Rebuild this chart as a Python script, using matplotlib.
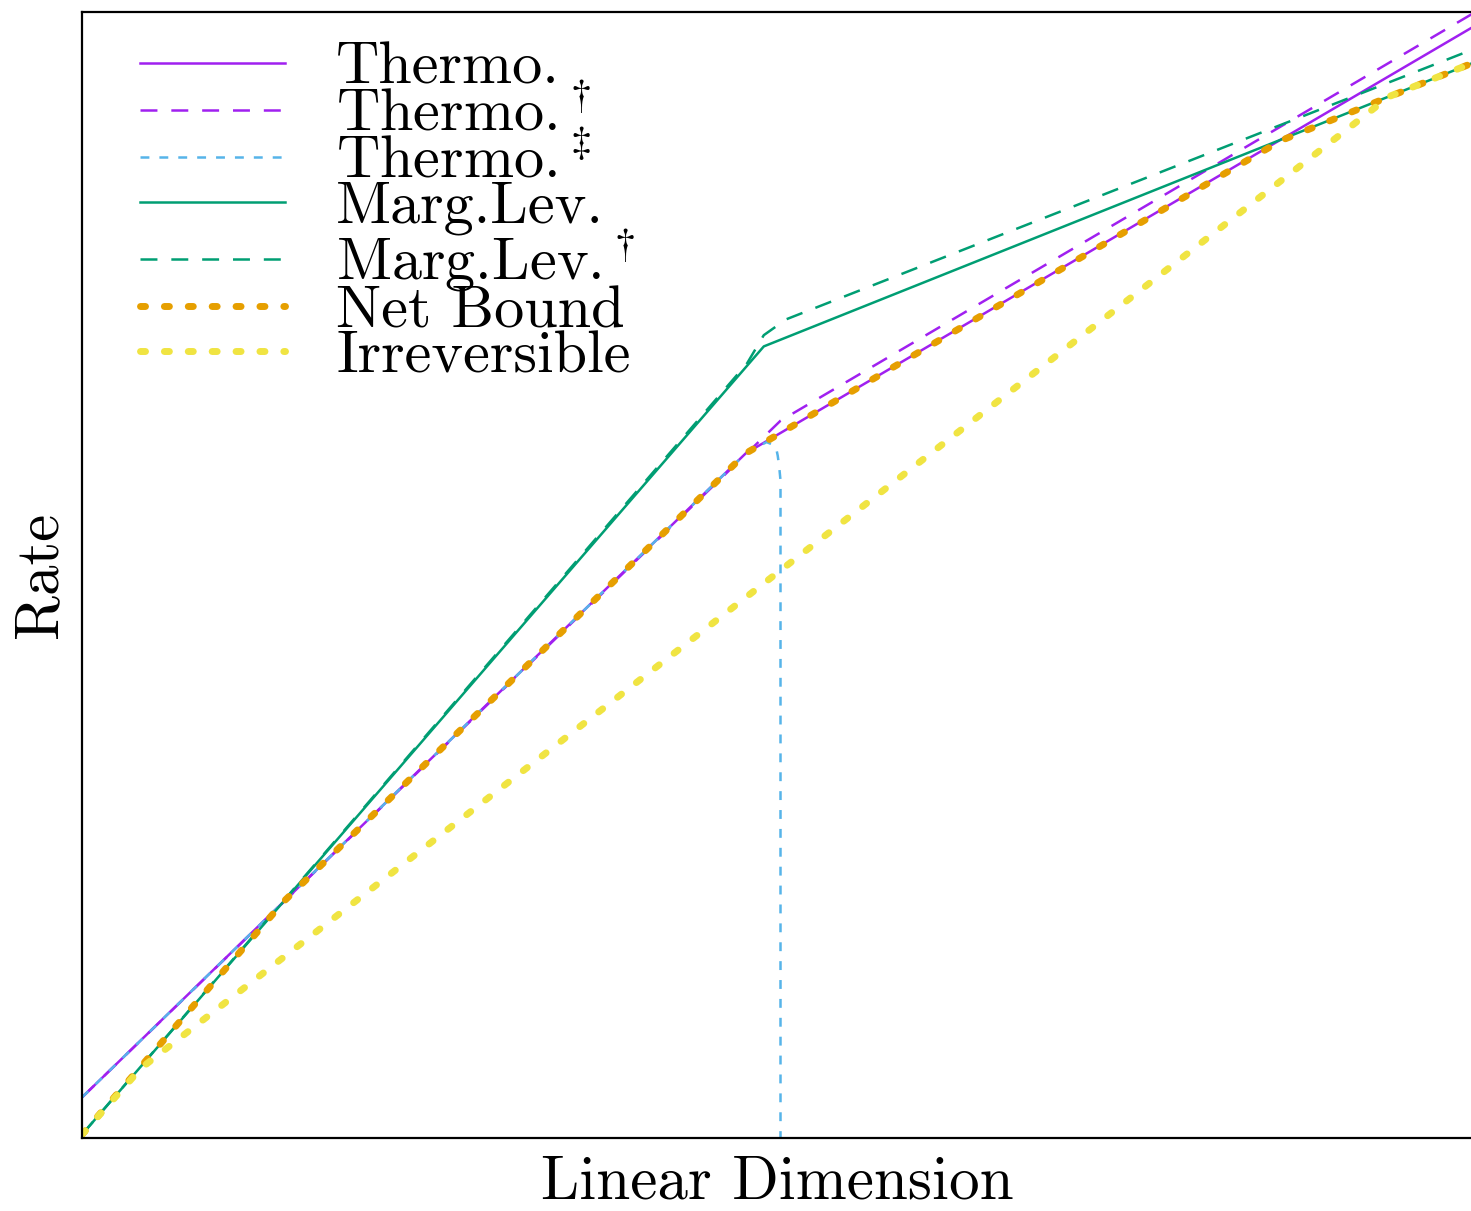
import matplotlib
matplotlib.use('Agg')
import matplotlib.pyplot as plt

plt.rcParams['font.family'] = 'serif'
plt.rcParams['font.serif'] = ['cmr10']
plt.rcParams['mathtext.fontset'] = 'cm'
plt.rcParams['axes.unicode_minus'] = False
plt.rcParams['lines.scale_dashes'] = False

# both axes scaled 0..1
thermo_x = [0.0, 0.477, 1.0]
thermo_y = [0.036, 0.608, 0.987]

thermo_d_x = [0.0, 0.502, 1.0]
thermo_d_y = [0.036, 0.637, 0.999]

thermo_dd_x = [0.0, 0.477, 0.492, 0.496, 0.499, 0.500, 0.501, 0.502, 0.502]
thermo_dd_y = [0.036, 0.608, 0.618, 0.616, 0.612, 0.606, 0.597, 0.584, 0.0]

marg_x = [0.0, 0.490, 1.0]
marg_y = [0.003, 0.703, 0.955]

marg_d_x = [0.0, 0.478, 0.490, 0.506, 1.0]
marg_d_y = [0.003, 0.688, 0.713, 0.727, 0.967]

net_x = [0.0, 0.145, 0.477, 0.862, 1.0]
net_y = [0.003, 0.210, 0.608, 0.886, 0.955]

irr_x = [0.0, 0.0425, 0.9395, 1.0]
irr_y = [0.003, 0.062, 0.925, 0.955]

purple = '#A020F0'
skyblue = '#56B4E9'
green = '#009E73'
orange = '#E69F00'
yellow = '#F0E442'

fig = plt.figure(figsize=(7.355, 6.055), dpi=200)
ax = fig.add_axes([0.0557, 0.0603, 0.946, 0.9298])

ax.plot(thermo_x, thermo_y, color=purple, lw=0.9, label='Thermo.')
ax.plot(thermo_d_x, thermo_d_y, color=purple, lw=0.9, dashes=(6.1, 5.0),
        label=r'Thermo.$^\dagger$')
ax.plot(thermo_dd_x, thermo_dd_y, color=skyblue, lw=0.9, dashes=(3.2, 3.6),
        label=r'Thermo.$^\ddagger$')
ax.plot(marg_x, marg_y, color=green, lw=0.9, label='Marg.Lev.')
ax.plot(marg_d_x, marg_d_y, color=green, lw=0.9, dashes=(6.1, 5.0),
        label=r'Marg.Lev.$^\dagger$')
ax.plot(net_x, net_y, color=orange, lw=2.5, dashes=(1.8, 6.8),
        dash_capstyle='round', label='Net Bound')
ax.plot(irr_x, irr_y, color=yellow, lw=2.5, dashes=(1.8, 6.8),
        dash_capstyle='round', label='Irreversible')

ax.set_xlim(0, 1)
ax.set_ylim(0, 1)
ax.set_xticks([])
ax.set_yticks([])
ax.set_xlabel('Linear Dimension', fontsize=22, labelpad=6)
ax.set_ylabel('Rate', fontsize=22, labelpad=5)

ax.legend(loc='upper left', bbox_to_anchor=(0.003, 1.022), fontsize=21.7,
          frameon=False, handlelength=2.4, handletextpad=0.85,
          labelspacing=-0.155)

fig.savefig('out.png', dpi=200)
